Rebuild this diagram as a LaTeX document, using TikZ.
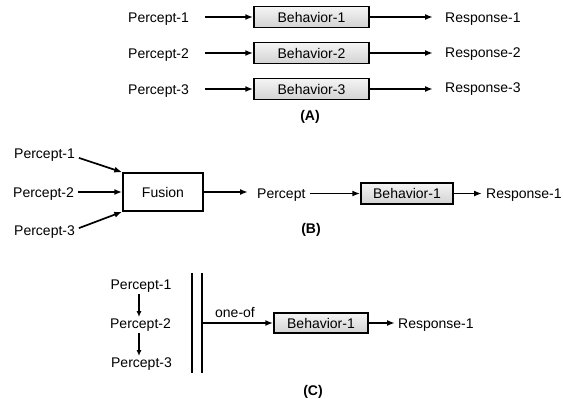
\documentclass[tikz,border=0pt]{standalone}
\usepackage{fontspec}
\setmainfont{Liberation Sans}
\usetikzlibrary{arrows.meta}
\begin{document}
\begin{tikzpicture}[x=1pt,y=-1pt,
  txt/.style={inner sep=0pt, font=\fontsize{14}{16}\selectfont},
  lab/.style={inner sep=0pt, font=\fontsize{14}{16}\selectfont\bfseries, anchor=base},
  arr/.style={line width=1.7pt, -{Latex[length=8pt,width=6pt]}},
  behbox/.style={draw, line width=1.5pt, top color=gray!8, bottom color=gray!35,
     minimum height=21pt, inner sep=0pt, font=\fontsize{14}{16}\selectfont},
  fusbox/.style={draw, line width=1.5pt, fill=white, minimum width=80pt,
     minimum height=38pt, inner sep=0pt, font=\fontsize{14}{16}\selectfont}]
\useasboundingbox (0,0) rectangle (563,399);
% ---------- (A)
\node[txt, anchor=base west] (pa1) at (128,22) {Percept-1};
\node[txt, anchor=base west] (pa2) at (128,58) {Percept-2};
\node[txt, anchor=base west] (pa3) at (128,94) {Percept-3};
\node[behbox, minimum width=115pt] (ba1) at (311.5,17) {Behavior-1};
\node[behbox, minimum width=115pt] (ba2) at (311.5,53) {Behavior-2};
\node[behbox, minimum width=115pt] (ba3) at (311.5,89) {Behavior-3};
\node[txt, anchor=base west] (ra1) at (445,22) {Response-1};
\node[txt, anchor=base west] (ra2) at (445,57) {Response-2};
\node[txt, anchor=base west] (ra3) at (445,92) {Response-3};
\foreach \i in {1,2,3}{
  \draw[arr, shorten <=16pt] (ba\i.west -| pa\i.east) -- (ba\i.west);
  \draw[arr, shorten >=12pt] (ba\i.east) -- (ba\i.east -| ra\i.west);
}
\node[lab] (la) at (310,120) {(A)};
% ---------- (B)
\node[txt, anchor=base west] (pb1) at (14,158) {Percept-1};
\node[txt, anchor=base west] (pb2) at (13,197) {Percept-2};
\node[txt, anchor=base west] (pb3) at (14,235) {Percept-3};
\node[fusbox] (fu) at (163,192) {Fusion};
\node[txt, anchor=base west] (pc) at (257,198) {Percept};
\node[behbox, minimum width=92pt] (bb) at (407,193.5) {Behavior-1};
\node[txt, anchor=base west] (rb) at (486,198) {Response-1};
\draw[arr, shorten <=4pt] ([yshift=-2pt]pb1.east) -- (fu.north west);
\draw[arr, shorten <=4pt] (fu.west -| pb2.east) -- (fu.west);
\draw[arr, shorten <=4pt] ([yshift=2pt]pb3.east) -- (fu.south west);
\draw[arr, shorten >=9pt] (fu.east) -- (fu.east -| pc.west);
\draw[arr, shorten <=4pt] (bb.west -| pc.east) -- (bb.west);
\draw[arr, shorten >=4pt] (bb.east) -- (bb.east -| rb.west);
\node[lab] (lb) at (311,233) {(B)};
% ---------- (C)
\node[txt, anchor=base] (pd1) at (141,289) {Percept-1};
\node[txt, anchor=base] (pd2) at (140.5,328) {Percept-2};
\node[txt, anchor=base] (pd3) at (141.5,367) {Percept-3};
\draw[arr, line width=1.4pt, -{Latex[length=6pt,width=5pt]}, shorten <=2pt, shorten >=1pt]
  ([xshift=-2pt]pd1.south) -- ([xshift=-1.5pt]pd2.north);
\draw[arr, line width=1.4pt, -{Latex[length=6pt,width=5pt]}, shorten <=2pt, shorten >=1pt]
  ([xshift=-1.5pt]pd2.south) -- ([xshift=-2.5pt]pd3.north);
\node[minimum width=10pt, minimum height=100pt, inner sep=0pt] (bar) at (197,323) {};
\draw[line width=2pt] (bar.north west) -- (bar.south west);
\draw[line width=2pt] (bar.north east) -- (bar.south east);
\node[behbox, minimum width=94pt, minimum height=20pt] (bc) at (321,323) {Behavior-1};
\node[txt, anchor=base west] (rc) at (398,328) {Response-1};
\draw[arr] (bar.east) -- (bc.west);
\draw[arr, shorten >=3pt] (bc.east) -- (bc.east -| rc.west);
\node[txt, anchor=base] (oneof) at (235,317) {one-of};
\node[lab] (lc) at (313,395) {(C)};
\end{tikzpicture}
\end{document}
